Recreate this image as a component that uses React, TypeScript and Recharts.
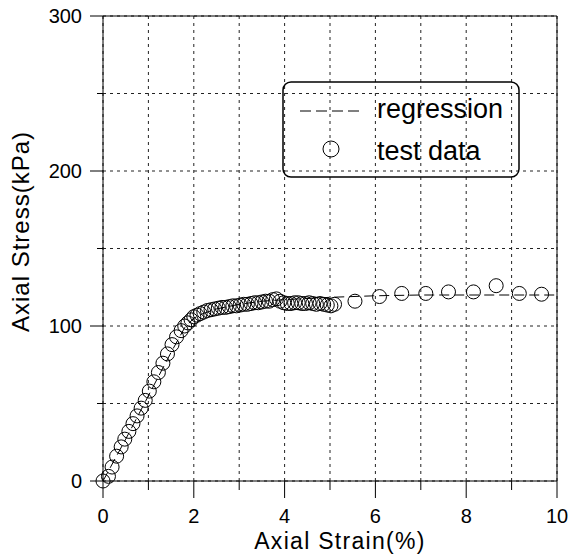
import React from "react";
import {
  ScatterChart,
  Scatter,
  XAxis,
  YAxis,
  CartesianGrid,
  ReferenceLine,
  Legend,
} from "recharts";

// test data (axial strain %, axial stress kPa)
const strain = [
  0.0, 0.12, 0.2, 0.3, 0.4, 0.48, 0.57, 0.66, 0.75, 0.84, 0.93, 1.02, 1.12, 1.22, 1.32,
  1.42, 1.52, 1.62, 1.72, 1.8, 1.87, 1.94, 2.0, 2.07, 2.14, 2.22, 2.3, 2.38, 2.46, 2.54,
  2.62, 2.7, 2.78, 2.86, 2.94, 3.02, 3.1, 3.18, 3.26, 3.34, 3.42, 3.5, 3.58, 3.66, 3.74,
  3.82, 3.9, 3.98, 4.06, 4.14, 4.22, 4.3, 4.38, 4.46, 4.54, 4.62, 4.7, 4.78, 4.86, 4.94,
  5.02, 5.1, 5.55, 6.09, 6.58, 7.11, 7.61, 8.16, 8.66, 9.17, 9.66,
];
const stress = [
  0, 3, 9, 16, 22, 27, 32, 37, 42, 47, 52, 58, 64, 70, 76,
  82, 88, 93, 97, 100, 102, 104, 106, 107, 108, 109, 110, 110.5, 111, 111.5,
  112, 112, 112.5, 113, 113, 113.5, 114, 114, 114.5, 115, 115, 115.5, 116, 116, 117,
  117.5, 116, 115, 114.5, 114.5, 115, 115, 114.5, 114.5, 115, 114.5, 114, 114.5, 114, 113.5,
  113, 114, 116, 119, 121, 121, 122, 122, 126, 121, 120.5,
];

// regression curve
const regStrain = [0, 0.5, 1.0, 1.5, 1.8, 2.0, 2.2, 2.5, 3.0, 3.5, 4.0, 5.0, 6.0, 7.0, 8.0, 9.0, 10.0];
const regStress = [0, 27, 55, 83, 99, 105, 108, 111, 114, 116, 117, 118.5, 119.5, 120, 120, 120, 120];

const xTicks = [0, 1, 2, 3, 4, 5, 6, 7, 8, 9, 10];
const yTicks = [0, 50, 100, 150, 200, 250, 300];

const testData = strain.map((x, i) => ({ x, y: stress[i] }));
const regData = regStrain.map((x, i) => ({ x, y: regStress[i] }));

const FONT = "'Liberation Sans', Arial, Helvetica, sans-serif";

function XTick({ x, y, payload }: any) {
  const major = payload.value % 2 === 0;
  return (
    <g>
      <line x1={x} x2={x} y1={y} y2={y + (major ? 17 : 9)} stroke="#000" />
      {major && (
        <text x={x} y={y + 42} textAnchor="middle" fontSize={20} fontFamily={FONT} fill="#000">
          {payload.value}
        </text>
      )}
    </g>
  );
}

function YTick({ x, y, payload }: any) {
  const major = payload.value % 100 === 0;
  return (
    <g>
      <line x1={x} x2={x - (major ? 13 : 6)} y1={y} y2={y} stroke="#000" />
      {major && (
        <text x={x - 21} y={y + 7} textAnchor="end" fontSize={20} fontFamily={FONT} fill="#000">
          {payload.value}
        </text>
      )}
    </g>
  );
}

function XTitle({ viewBox }: any) {
  const { x, y, width } = viewBox;
  return (
    <text x={x + width / 2 + 10} y={y + 68} textAnchor="middle" fontSize={23} letterSpacing={1.3} fontFamily={FONT} fill="#000">
      Axial Strain(%)
    </text>
  );
}

function YTitle({ viewBox }: any) {
  const { y, height } = viewBox;
  const cx = 29;
  const cy = y + height / 2 - 17;
  return (
    <text x={cx} y={cy} transform={`rotate(-90, ${cx}, ${cy})`} textAnchor="middle" fontSize={24} letterSpacing={1} fontFamily={FONT} fill="#000">
      Axial Stress(kPa)
    </text>
  );
}

function LegendBox() {
  return (
    <svg width={238} height={97} style={{ display: "block", overflow: "visible" }}>
      <rect x={1} y={1} width={236} height={95} rx={8} fill="none" stroke="#000" strokeWidth={1.5} />
      <line x1={18} x2={78} y1={30} y2={30} stroke="#000" strokeDasharray="11 5" />
      <text x={95} y={37} fontSize={27} fontFamily={FONT} fill="#000">regression</text>
      <circle cx={49} cy={68} r={8} fill="none" stroke="#000" />
      <text x={95} y={79} fontSize={27} fontFamily={FONT} fill="#000">test data</text>
    </svg>
  );
}

const circleShape = (props: any) => (
  <circle cx={props.cx} cy={props.cy} r={7} fill="none" stroke="#000" strokeWidth={1} />
);

export default function App() {
  return (
    <div style={{ position: "absolute", left: 0, top: 0, background: "#fff" }}>
      <ScatterChart width={571} height={555} margin={{ top: 16, right: 14, bottom: 0, left: 13 }}>
        <CartesianGrid stroke="#222" strokeDasharray="3 4" />
        <XAxis
          type="number"
          dataKey="x"
          domain={[0, 10]}
          ticks={xTicks}
          interval={0}
          height={74}
          tickSize={0}
          tickMargin={0}
          tickLine={false}
          axisLine={{ stroke: "#000" }}
          tick={<XTick />}
          label={<XTitle />}
        />
        <YAxis
          type="number"
          dataKey="y"
          domain={[0, 300]}
          ticks={yTicks}
          interval={0}
          width={90}
          tickSize={0}
          tickMargin={0}
          tickLine={false}
          axisLine={{ stroke: "#000" }}
          tick={<YTick />}
          label={<YTitle />}
        />
        <ReferenceLine y={300} stroke="#000" />
        <ReferenceLine x={10} stroke="#000" />
        <Legend
          layout="vertical"
          align="center"
          verticalAlign="middle"
          content={<LegendBox />}
          wrapperStyle={{ position: "absolute", left: 282, top: 81, width: 238, height: 97, margin: 0, padding: 0, lineHeight: 0 }}
        />
        <Scatter
          name="regression"
          data={regData}
          line={{ stroke: "#000", strokeWidth: 1, strokeDasharray: "10 5" }}
          lineType="joint"
          shape={() => <g />}
          isAnimationActive={false}
        />
        <Scatter name="test data" data={testData} shape={circleShape} isAnimationActive={false} />
      </ScatterChart>
    </div>
  );
}
